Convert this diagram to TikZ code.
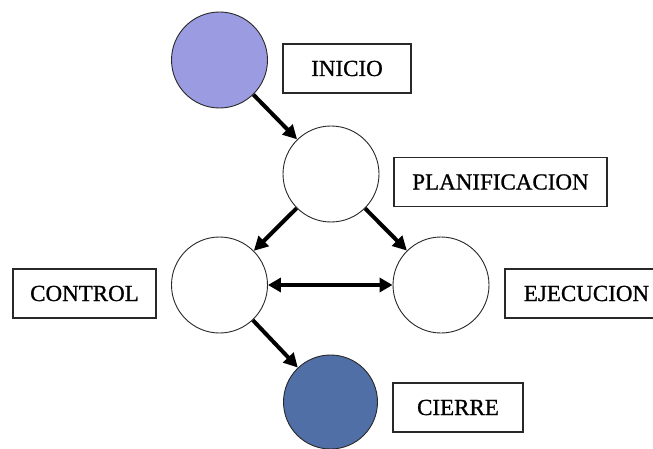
\documentclass[tikz,border=0pt]{standalone}
\usepackage{fontspec}
\setmainfont{Liberation Serif}
\newfontfamily\tagfont[FakeBold=0.9]{Liberation Serif}
\usetikzlibrary{arrows.meta}
\definecolor{startfill}{RGB}{155,155,226}
\definecolor{endfill}{RGB}{80,111,166}
\definecolor{edgegray}{RGB}{40,40,40}
\begin{document}
\begin{tikzpicture}[x=1pt,y=-1pt,
  phase/.style={circle,draw=edgegray,line width=0.9pt,minimum size=96pt,inner sep=0pt},
  tag/.style={draw=edgegray,line width=1.2pt,minimum height=49pt,inner sep=0pt,
    font=\tagfont\fontsize{23}{23}\selectfont},
  flow/.style={line width=4pt,-{Triangle[length=14pt,width=14pt]}},
  twoway/.style={line width=4pt,{Triangle[length=13pt,width=14pt]}-{Triangle[length=13pt,width=14pt]}}]
\clip (0,0) rectangle (653,449);
\useasboundingbox (0,0) rectangle (653,449);
% phases of the cycle
\node[phase,fill=startfill] (inicio) at (219.5,60) {};
\node[phase] (plan) at (331,174) {};
\node[phase] (control) at (219.5,285) {};
\node[phase] (ejec) at (441,285) {};
\node[phase,fill=endfill,minimum size=94pt] (cierre) at (330.5,402) {};
% labels
\node[tag,minimum width=128pt] (tinicio) at (347,68.5) {INICIO};
\node[tag,minimum width=213pt] (tplan) at (500.5,182) {PLANIFICACION};
\node[tag,minimum width=143pt] (tcontrol) at (84.5,293.5) {CONTROL};
\node[tag,minimum width=163pt] (tejec) at (586.5,293.5) {EJECUCION};
\node[tag,minimum width=130pt] (tcierre) at (458,407.5) {CIERRE};
% transitions
\draw[flow] (inicio) -- (plan);
\draw[flow] (plan) -- (control);
\draw[flow] (plan) -- (ejec);
\draw[twoway] (control) -- (ejec);
\draw[flow] (control) -- (cierre);
\end{tikzpicture}
\end{document}
